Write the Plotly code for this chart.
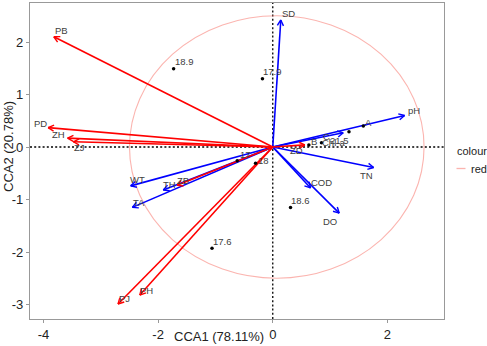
import numpy as np
import plotly.graph_objects as go

# ---------------- data ----------------
species = ["PB", "PD", "ZH", "ZJ", "PJ", "PH", "ZB", "ZD"]
species_x = [-3.82, -3.92, -3.58, -3.48, -2.70, -2.32, -1.67, 0.56]
species_y = [2.10, 0.37, 0.17, 0.10, -2.99, -2.82, -0.73, 0.04]

env = ["SD", "pH", "TN", "COD", "DO", "WT", "TH", "TA", "Chl-a"]
env_x = [0.14, 2.30, 1.76, 0.66, 1.16, -2.48, -1.91, -2.45, 1.23]
env_y = [2.42, 0.60, -0.39, -0.78, -1.26, -0.74, -0.82, -1.15, 0.27]

sites = ["18.9", "17.9", "17.6", "18.6", "A", "17", "18", "B", "C", "21.5"]
site_x = [-1.73, -0.18, -1.06, 0.31, 1.58, -0.62, -0.30, 0.63, 0.85, 1.33]
site_y = [1.49, 1.30, -1.93, -1.15, 0.40, -0.26, -0.31, 0.04, 0.08, 0.29]

x_ticks = [-4, -2, 0, 2]
y_ticks = [-3, -2, -1, 0, 1, 2]

circle_cx, circle_cy = 0.07, 0.0
circle_rx, circle_ry = 2.57, 2.50

# ---------------- layout geometry ----------------
W, H = 487, 346
ML, MR, MT, MB = 30, 43, 3, 27
XR = [-4.236, 2.988]
YR = [-3.276, 2.743]
pw, ph = W - ML - MR, H - MT - MB
sx = pw / (XR[1] - XR[0])
sy = ph / (YR[1] - YR[0])

# label offsets in screen px (dx right, dy down)
species_off = [(8, -6), (-8, -4), (-9, -4), (6, 6), (6, -5), (7, -5), (6, -5), (-8, 6)]
env_off = [(8, -6), (9, -5), (-7, 8), (11, -5), (-9, 8), (7, -6), (6, -6), (7, -5), (-10, 10)]
site_off = [(11, -7), (10, -7), (10, -7), (10, -7), (5, -4), (8, -6), (8, -3), (5, -3), (5, -6), (-9, 9)]

RED = "#FF0000"
BLUE = "#0000FF"
PINK = "rgba(248,118,109,0.55)"


def arrows(xs, ys, color, name):
    lx, ly, hx, hy = [], [], [], []
    L, ang = 6.5, np.radians(28)
    for x, y in zip(xs, ys):
        lx += [0, x, None]
        ly += [0, y, None]
        px, py = x * sx, y * sy
        n = np.hypot(px, py)
        ux, uy = -px / n, -py / n
        for s in (1, -1):
            c, si = np.cos(s * ang), np.sin(s * ang)
            ax = (ux * c - uy * si) * L
            ay = (ux * si + uy * c) * L
            hx += [x + ax / sx, x, None]
            hy += [y + ay / sy, y, None]
    return [
        go.Scatter(x=lx, y=ly, mode="lines", line=dict(color=color, width=1.6),
                   showlegend=False, hoverinfo="skip", name=name),
        go.Scatter(x=hx, y=hy, mode="lines", line=dict(color=color, width=1.4),
                   showlegend=False, hoverinfo="skip", name=name),
    ]


fig = go.Figure()

fig.add_shape(type="circle", xref="x", yref="y",
              x0=circle_cx - circle_rx, x1=circle_cx + circle_rx,
              y0=circle_cy - circle_ry, y1=circle_cy + circle_ry,
              line=dict(color=PINK, width=1.1), layer="below")

fig.add_shape(type="line", xref="x", yref="paper", x0=0, x1=0, y0=0, y1=1,
              line=dict(color="black", width=1.3, dash="2px,2.2px"), layer="below")
fig.add_shape(type="line", xref="paper", yref="y", x0=0, x1=1, y0=0, y1=0,
              line=dict(color="black", width=1.3, dash="2px,2.2px"), layer="below")

for t in arrows(env_x, env_y, BLUE, "env"):
    fig.add_trace(t)
for t in arrows(species_x, species_y, RED, "species"):
    fig.add_trace(t)

fig.add_trace(go.Scatter(x=site_x, y=site_y, mode="markers",
                         marker=dict(color="black", size=3.5),
                         showlegend=False, hoverinfo="skip"))

LABEL_FONT = dict(family="Liberation Sans, Arial", size=9.5, color="#404040")


def add_labels(names, xs, ys, offs):
    for nm, x, y, (dx, dy) in zip(names, xs, ys, offs):
        fig.add_annotation(x=x, y=y, xref="x", yref="y", text=nm, showarrow=False,
                           xshift=dx, yshift=-dy, xanchor="center", yanchor="middle",
                           font=LABEL_FONT)


add_labels(species, species_x, species_y, species_off)
add_labels(env, env_x, env_y, env_off)
add_labels(sites, site_x, site_y, site_off)

TITLE_FONT = dict(family="Liberation Sans, Arial", size=13, color="#222222")
fig.add_annotation(text="CCA1 (78.11%)", xref="paper", yref="paper",
                   x=(218.5 - ML) / pw, y=(H - MB - 336) / ph,
                   showarrow=False, xanchor="center", yanchor="middle", font=TITLE_FONT)
fig.add_annotation(text="CCA2 (20.78%)", xref="paper", yref="paper",
                   x=(8 - ML) / pw, y=(H - MB - 147) / ph, textangle=-90,
                   showarrow=False, xanchor="center", yanchor="middle", font=TITLE_FONT)

LEG_FONT = dict(family="Liberation Sans, Arial", size=11, color="#222222")
fig.add_annotation(text="colour", xref="paper", yref="paper",
                   x=(455.5 - ML) / pw, y=(H - MB - 151.5) / ph, showarrow=False,
                   xanchor="left", yanchor="middle", font=LEG_FONT)
fig.add_annotation(text="red", xref="paper", yref="paper",
                   x=(469 - ML) / pw, y=(H - MB - 168.5) / ph, showarrow=False,
                   xanchor="left", yanchor="middle", font=LEG_FONT)
fig.add_shape(type="line", xref="paper", yref="paper",
              x0=(456.5 - ML) / pw, x1=(465.5 - ML) / pw,
              y0=(H - MB - 168.5) / ph, y1=(H - MB - 168.5) / ph,
              line=dict(color=PINK, width=1.3))

AX = dict(showgrid=False, zeroline=False, showline=True, mirror=True,
          linecolor="#999999", linewidth=1.3, ticks="outside", ticklen=3,
          tickcolor="#999999", tickwidth=1, automargin=False,
          tickfont=dict(family="Liberation Sans, Arial", size=13, color="#222222"))

fig.update_layout(
    width=W, height=H,
    margin=dict(l=ML, r=MR, t=MT, b=MB, autoexpand=False),
    plot_bgcolor="white", paper_bgcolor="white",
    xaxis=dict(range=XR, tickvals=x_ticks, ticktext=[str(v) for v in x_ticks], **AX),
    yaxis=dict(range=YR, tickvals=y_ticks, ticktext=[str(v) for v in y_ticks], **AX),
    showlegend=False,
)

fig.write_html("out.html", config={"displayModeBar": False},
               post_script="document.body.style.margin='0';document.body.style.overflow='hidden';")
